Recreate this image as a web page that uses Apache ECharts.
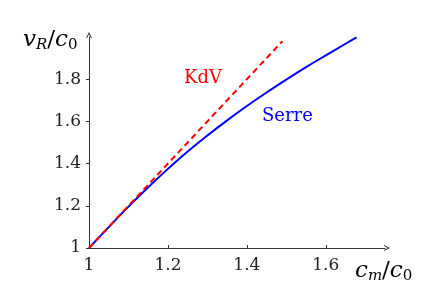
<!DOCTYPE html>
<html>
<head>
<meta charset="utf-8">
<script src="https://cdn.jsdelivr.net/npm/echarts@6/dist/echarts.min.js"></script>
<style>
html,body{margin:0;padding:0;background:#fff;}
#c{width:436px;height:304px;}
</style>
</head>
<body>
<div id="c"></div>
<script>
// Data
const serreX = [1, 1.05, 1.1, 1.15, 1.2, 1.25, 1.3, 1.35, 1.4, 1.45, 1.5, 1.55, 1.6, 1.65, 1.678];
const serreY = [1, 1.099, 1.196, 1.288, 1.375, 1.457, 1.533, 1.605, 1.673, 1.737, 1.798, 1.857, 1.913, 1.968, 1.998];
const kdvX = [1, 1.49];
const kdvY = [1, 1.98];
const xTicks = [1, 1.2, 1.4, 1.6];
const yTicks = [1, 1.2, 1.4, 1.6, 1.8];
const xRange = [1, 1.75];
const yRange = [1, 2.0];

const FONT = 'DejaVu Serif';
const axisColor = '#333';
const arrow = 'path://M0,10 L5,0 L10,10 L8.2,10 L5,3.6 L1.8,10 Z';
const tickFmt = (list) => (v) => list.some(t => Math.abs(t - v) < 1e-6) ? String(+v.toFixed(2)) : '';

const mathRich = {
  i: {fontFamily: FONT, fontStyle: 'italic', fontSize: 23, color: '#222', verticalAlign: 'top', lineHeight: 24},
  n: {fontFamily: FONT, fontSize: 23, color: '#222', verticalAlign: 'top', lineHeight: 24},
  s: {fontFamily: FONT, fontStyle: 'italic', fontSize: 15, color: '#222', verticalAlign: 'bottom', lineHeight: 15, padding: [11, 0, 0, 0]},
  r: {fontFamily: FONT, fontSize: 15, color: '#222', verticalAlign: 'bottom', lineHeight: 15, padding: [11, 0, 0, 0]}
};

const chart = echarts.init(document.getElementById('c'), null, {renderer: 'canvas'});
chart.setOption({
  animation: false,
  backgroundColor: '#fff',
  grid: {left: 89, right: 51, top: 37, bottom: 56},
  xAxis: {
    type: 'value', min: xRange[0], max: xRange[1], interval: 0.2,
    axisLine: {lineStyle: {color: axisColor, width: 1}, symbol: ['none', arrow], symbolSize: [7, 6], symbolOffset: [0, 2]},
    axisTick: {show: true, inside: true, length: 3, customValues: xTicks, lineStyle: {color: axisColor}},
    axisLabel: {customValues: xTicks, formatter: tickFmt(xTicks), fontFamily: FONT, fontSize: 17, color: '#222', margin: 9},
    splitLine: {show: false}
  },
  yAxis: {
    type: 'value', min: yRange[0], max: yRange[1], interval: 0.2,
    axisLine: {lineStyle: {color: axisColor, width: 1}, symbol: ['none', arrow], symbolSize: [7, 6], symbolOffset: [0, 2]},
    axisTick: {show: true, inside: false, length: 3, customValues: yTicks, lineStyle: {color: axisColor}},
    axisLabel: {customValues: yTicks, formatter: tickFmt(yTicks), fontFamily: FONT, fontSize: 17, color: '#222', margin: 8},
    splitLine: {show: false}
  },
  series: [
    {
      type: 'line', name: 'Serre', data: serreX.map((x, k) => [x, serreY[k]]),
      showSymbol: false, smooth: 0.4, lineStyle: {color: '#0000ff', width: 2}, z: 3
    },
    {
      type: 'line', name: 'KdV', data: kdvX.map((x, k) => [x, kdvY[k]]),
      showSymbol: false, lineStyle: {color: '#ff0000', width: 2, type: [6, 4]}, z: 4
    }
  ],
  graphic: [
    {type: 'text', left: 184, top: 69, style: {text: 'KdV', fontFamily: FONT, fontSize: 18, fill: '#ff0000'}},
    {type: 'text', left: 262, top: 107, style: {text: 'Serre', fontFamily: FONT, fontSize: 18, fill: '#0000ff'}},
    {type: 'text', left: 23, top: 27, style: {text: '{i|v}{s|R}{n|/}{i|c}{r|0}', rich: mathRich}},
    {type: 'text', left: 355, top: 258, style: {text: '{i|c}{s|m}{n|/}{i|c}{r|0}', rich: mathRich}}
  ]
});
</script>
</body>
</html>
